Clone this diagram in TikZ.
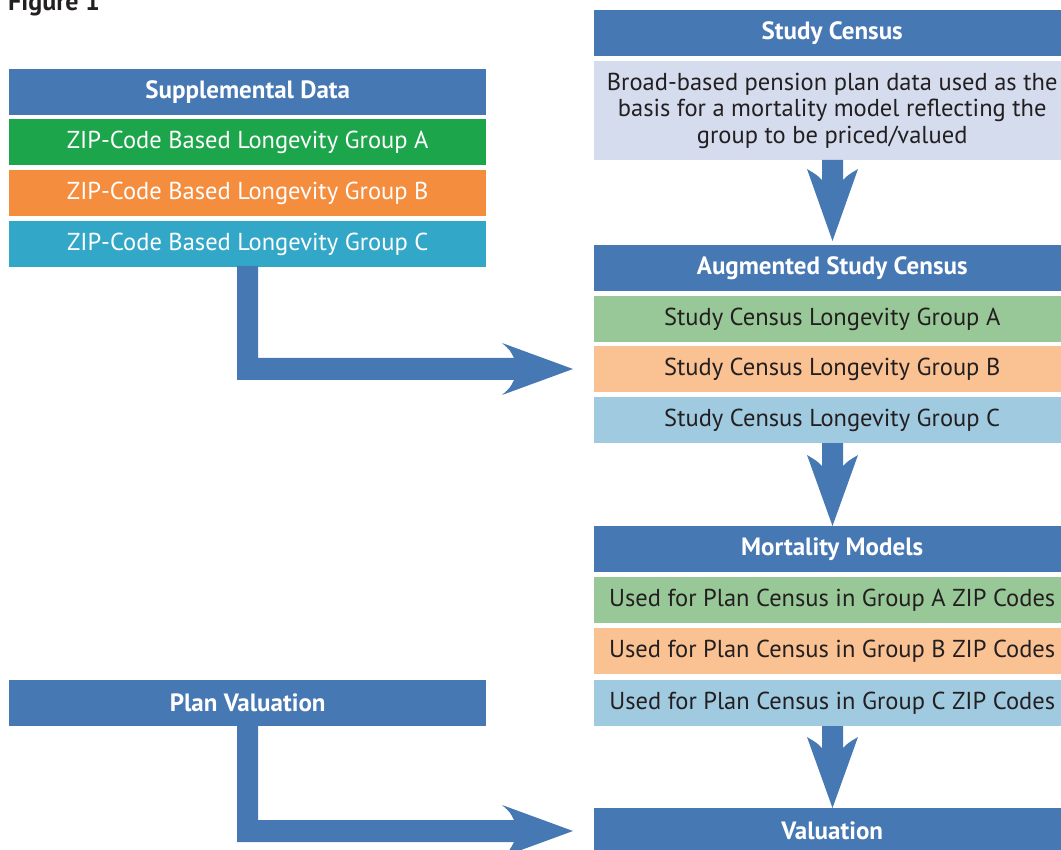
\documentclass[tikz,border=0pt]{standalone}
\usepackage{fontspec}
\setmainfont{PT Sans}
\usetikzlibrary{calc}
\definecolor{hdr}{HTML}{4678B4}
\definecolor{gA}{HTML}{1CA54A}
\definecolor{gB}{HTML}{F58D3E}
\definecolor{gC}{HTML}{33A7C8}
\definecolor{lS}{HTML}{D5DCEE}
\definecolor{lA}{HTML}{98C897}
\definecolor{lB}{HTML}{FAC293}
\definecolor{lC}{HTML}{A0CAE0}
\definecolor{txt}{HTML}{231F20}
\begin{document}
\begin{tikzpicture}[x=1pt,y=-1pt,
  lbox/.style={rectangle,anchor=north west,inner sep=0pt,minimum width=477pt,minimum height=46pt,font=\fontsize{24.5}{26.5}\selectfont},
  rbox/.style={lbox,minimum width=476pt},
  hdrbox/.style={fill=hdr,text=white,font=\fontsize{25}{27}\selectfont\bfseries},
  darkbox/.style={text=white},
  lightbox/.style={text=txt},
  fat/.style={fill=hdr,draw=none}]
\useasboundingbox (0,0) rectangle (1061,850);
\clip (0,0) rectangle (1061,850);
% title
\node[anchor=base west,inner sep=0pt,text=txt,font=\fontsize{26}{28}\selectfont\bfseries] (fig) at (8,11) {Figure 1};
% left column
\node[lbox,hdrbox] (sd) at (9,69) {Supplemental Data};
\node[lbox,darkbox,fill=gA] (za) at (9,119) {ZIP-Code Based Longevity Group A};
\node[lbox,darkbox,fill=gB] (zb) at (9,170) {ZIP-Code Based Longevity Group B};
\node[lbox,darkbox,fill=gC] (zc) at (9,221) {ZIP-Code Based Longevity Group C};
\node[lbox,hdrbox] (pv) at (9,680) {Plan Valuation};
% right column
\node[rbox,hdrbox] (sc) at (594,10) {Study Census};
\node[rbox,lightbox,fill=lS,minimum height=99pt,align=center] (scd) at (594,61) {Broad-based pension plan data used as the\\basis for a mortality model reflecting the\\group to be priced/valued};
\node[rbox,hdrbox] (asc) at (594,245) {Augmented Study Census};
\node[rbox,lightbox,fill=lA] (sa) at (594,296) {Study Census Longevity Group A};
\node[rbox,lightbox,fill=lB] (sb) at (594,346) {Study Census Longevity Group B};
\node[rbox,lightbox,fill=lC] (scc) at (594,397) {Study Census Longevity Group C};
\node[rbox,hdrbox] (mm) at (594,526) {Mortality Models};
\node[rbox,lightbox,fill=lA] (ma) at (594,577) {Used for Plan Census in Group A ZIP Codes};
\node[rbox,lightbox,fill=lB] (mb) at (594,628) {Used for Plan Census in Group B ZIP Codes};
\node[rbox,lightbox,fill=lC] (mc) at (594,680) {Used for Plan Census in Group C ZIP Codes};
\node[rbox,hdrbox] (val) at (594,808) {Valuation};
% down arrows
\fill[fat] (822,160) -- (843,160) -- (843,180) .. controls (848,175) .. (858,169) -- (832.5,241) -- (807,169) .. controls (817,175) .. (822,180) -- cycle;
\fill[fat] (822,443) -- (843,443) -- (843,466) .. controls (848,461) .. (858,455) -- (832.5,526) -- (807,455) .. controls (817,461) .. (822,466) -- cycle;
\fill[fat] (822,726) -- (843,726) -- (843,748) .. controls (848,743) .. (858,737) -- (832.5,808) -- (807,737) .. controls (817,743) .. (822,748) -- cycle;
% elbow arrows
\fill[fat] (237,266) -- (258,266) -- (258,358) -- (514,358) .. controls (510,350) .. (502,343) -- (573,369) -- (502,395) .. controls (510,388) .. (514,380) -- (237,380) -- cycle;
\fill[fat] (237,726) -- (258,726) -- (258,820) -- (514,820) .. controls (510,812) .. (502,805) -- (573,831) -- (502,857) .. controls (510,850) .. (514,842) -- (237,842) -- cycle;
\end{tikzpicture}
\end{document}
